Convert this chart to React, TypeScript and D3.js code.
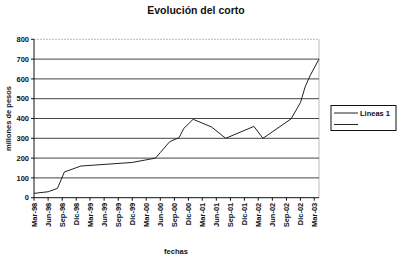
import React from "react";
import * as d3 from "d3";

const title = "Evolución del corto";
const yTitle = "millones de pesos";
const xTitle = "fechas";
const legendLabels = ["Lineas 1", ""];

const dates = [
  "1998-03-01", "1998-06-01", "1998-08-01", "1998-09-15", "1999-01-01",
  "1999-12-01", "2000-05-01", "2000-06-01", "2000-08-01", "2000-10-01",
  "2000-11-01", "2001-01-01", "2001-05-01", "2001-08-01", "2002-02-01",
  "2002-04-01", "2002-10-01", "2002-12-01", "2003-01-01", "2003-02-01",
  "2003-04-01",
];
const values = [
  22, 30, 47, 130, 160,
  178, 200, 228, 283, 303,
  350, 396, 357, 300, 360,
  300, 398, 480, 560, 615,
  700,
];
const yTicks = [0, 100, 200, 300, 400, 500, 600, 700, 800];
const tickDates = [
  "1998-03-01", "1998-06-01", "1998-09-01", "1998-12-01",
  "1999-03-01", "1999-06-01", "1999-09-01", "1999-12-01",
  "2000-03-01", "2000-06-01", "2000-09-01", "2000-12-01",
  "2001-03-01", "2001-06-01", "2001-09-01", "2001-12-01",
  "2002-03-01", "2002-06-01", "2002-09-01", "2002-12-01",
  "2003-03-01",
];
const monthNames = ["Ene", "Feb", "Mar", "Abr", "May", "Jun", "Jul", "Ago", "Sep", "Oct", "Nov", "Dic"];

const parse = (s: string) => {
  const [y, m, d] = s.split("-").map(Number);
  return new Date(y, m - 1, d);
};
const fmt = (d: Date) => `${monthNames[d.getMonth()]}-${String(d.getFullYear() % 100).padStart(2, "0")}`;

export default function App() {
  const W = 400, H = 257;
  const left = 34, right = 319, top = 39.3, bottom = 197.7;
  const x = d3.scaleTime().domain([parse("1998-03-01"), parse("2003-04-01")]).range([left, right]);
  const y = d3.scaleLinear().domain([0, 800]).range([bottom, top]);
  const pts = dates.map((d, i) => [x(parse(d)), y(values[i])] as [number, number]);
  const line = d3.line();
  const font = "'Liberation Sans', Arial, sans-serif";

  return (
    <svg width={W} height={H} style={{ position: "absolute", left: 0, top: 0, background: "#fff" }} fontFamily={font}>
      <rect x={0} y={0} width={W} height={H} fill="#fff" />
      <text x={196} y={14} textAnchor="middle" fontSize={10.5} fontWeight="bold" fill="#111">{title}</text>
      {/* plot border */}
      <line x1={left} x2={right} y1={top} y2={top} stroke="#bbb" strokeWidth={1} strokeDasharray="2,1" />
      <line x1={right} x2={right} y1={top} y2={bottom} stroke="#bbb" strokeWidth={1} />
      {/* gridlines */}
      {yTicks.filter(t => t > 0 && t < 800).map(t => (
        <line key={t} x1={left} x2={right} y1={y(t)} y2={y(t)} stroke="#444" strokeWidth={1} />
      ))}
      {/* axes */}
      <line x1={left} x2={left} y1={top} y2={bottom} stroke="#111" strokeWidth={1} />
      <line x1={left} x2={right} y1={bottom} y2={bottom} stroke="#111" strokeWidth={1} />
      {yTicks.map(t => (
        <g key={t}>
          <line x1={left - 3} x2={left} y1={y(t)} y2={y(t)} stroke="#111" />
          <text x={left - 5} y={y(t)} dy="0.35em" textAnchor="end" fontSize={7.5} fontWeight="bold" fill="#111">{t}</text>
        </g>
      ))}
      {tickDates.map(s => {
        const d = parse(s);
        const tx = x(d);
        return (
          <g key={s}>
            <line x1={tx} x2={tx} y1={bottom} y2={bottom + 3} stroke="#111" />
            <text transform={`translate(${tx},${bottom + 5}) rotate(-90)`} dy="0.35em" textAnchor="end" fontSize={7.5} fontWeight="bold" fill="#111">{fmt(d)}</text>
          </g>
        );
      })}
      <path d={line(pts) || ""} fill="none" stroke="#222" strokeWidth={1} />
      <text transform={`translate(8,${(top + bottom) / 2}) rotate(-90)`} dy="0.35em" textAnchor="middle" fontSize={7.5} fontWeight="bold" fill="#111">{yTitle}</text>
      <text x={176} y={254} textAnchor="middle" fontSize={7.5} fontWeight="bold" fill="#111">{xTitle}</text>
      {/* legend */}
      <rect x={331} y={105.5} width={65} height={25} fill="#fff" stroke="#111" strokeWidth={1} />
      {legendLabels.map((l, i) => (
        <g key={i}>
          <line x1={334} x2={358} y1={113 + i * 11.5} y2={113 + i * 11.5} stroke="#222" />
          <text x={360} y={113 + i * 11.5} dy="0.35em" fontSize={7.5} fontWeight="bold" fill="#111">{l}</text>
        </g>
      ))}
    </svg>
  );
}
